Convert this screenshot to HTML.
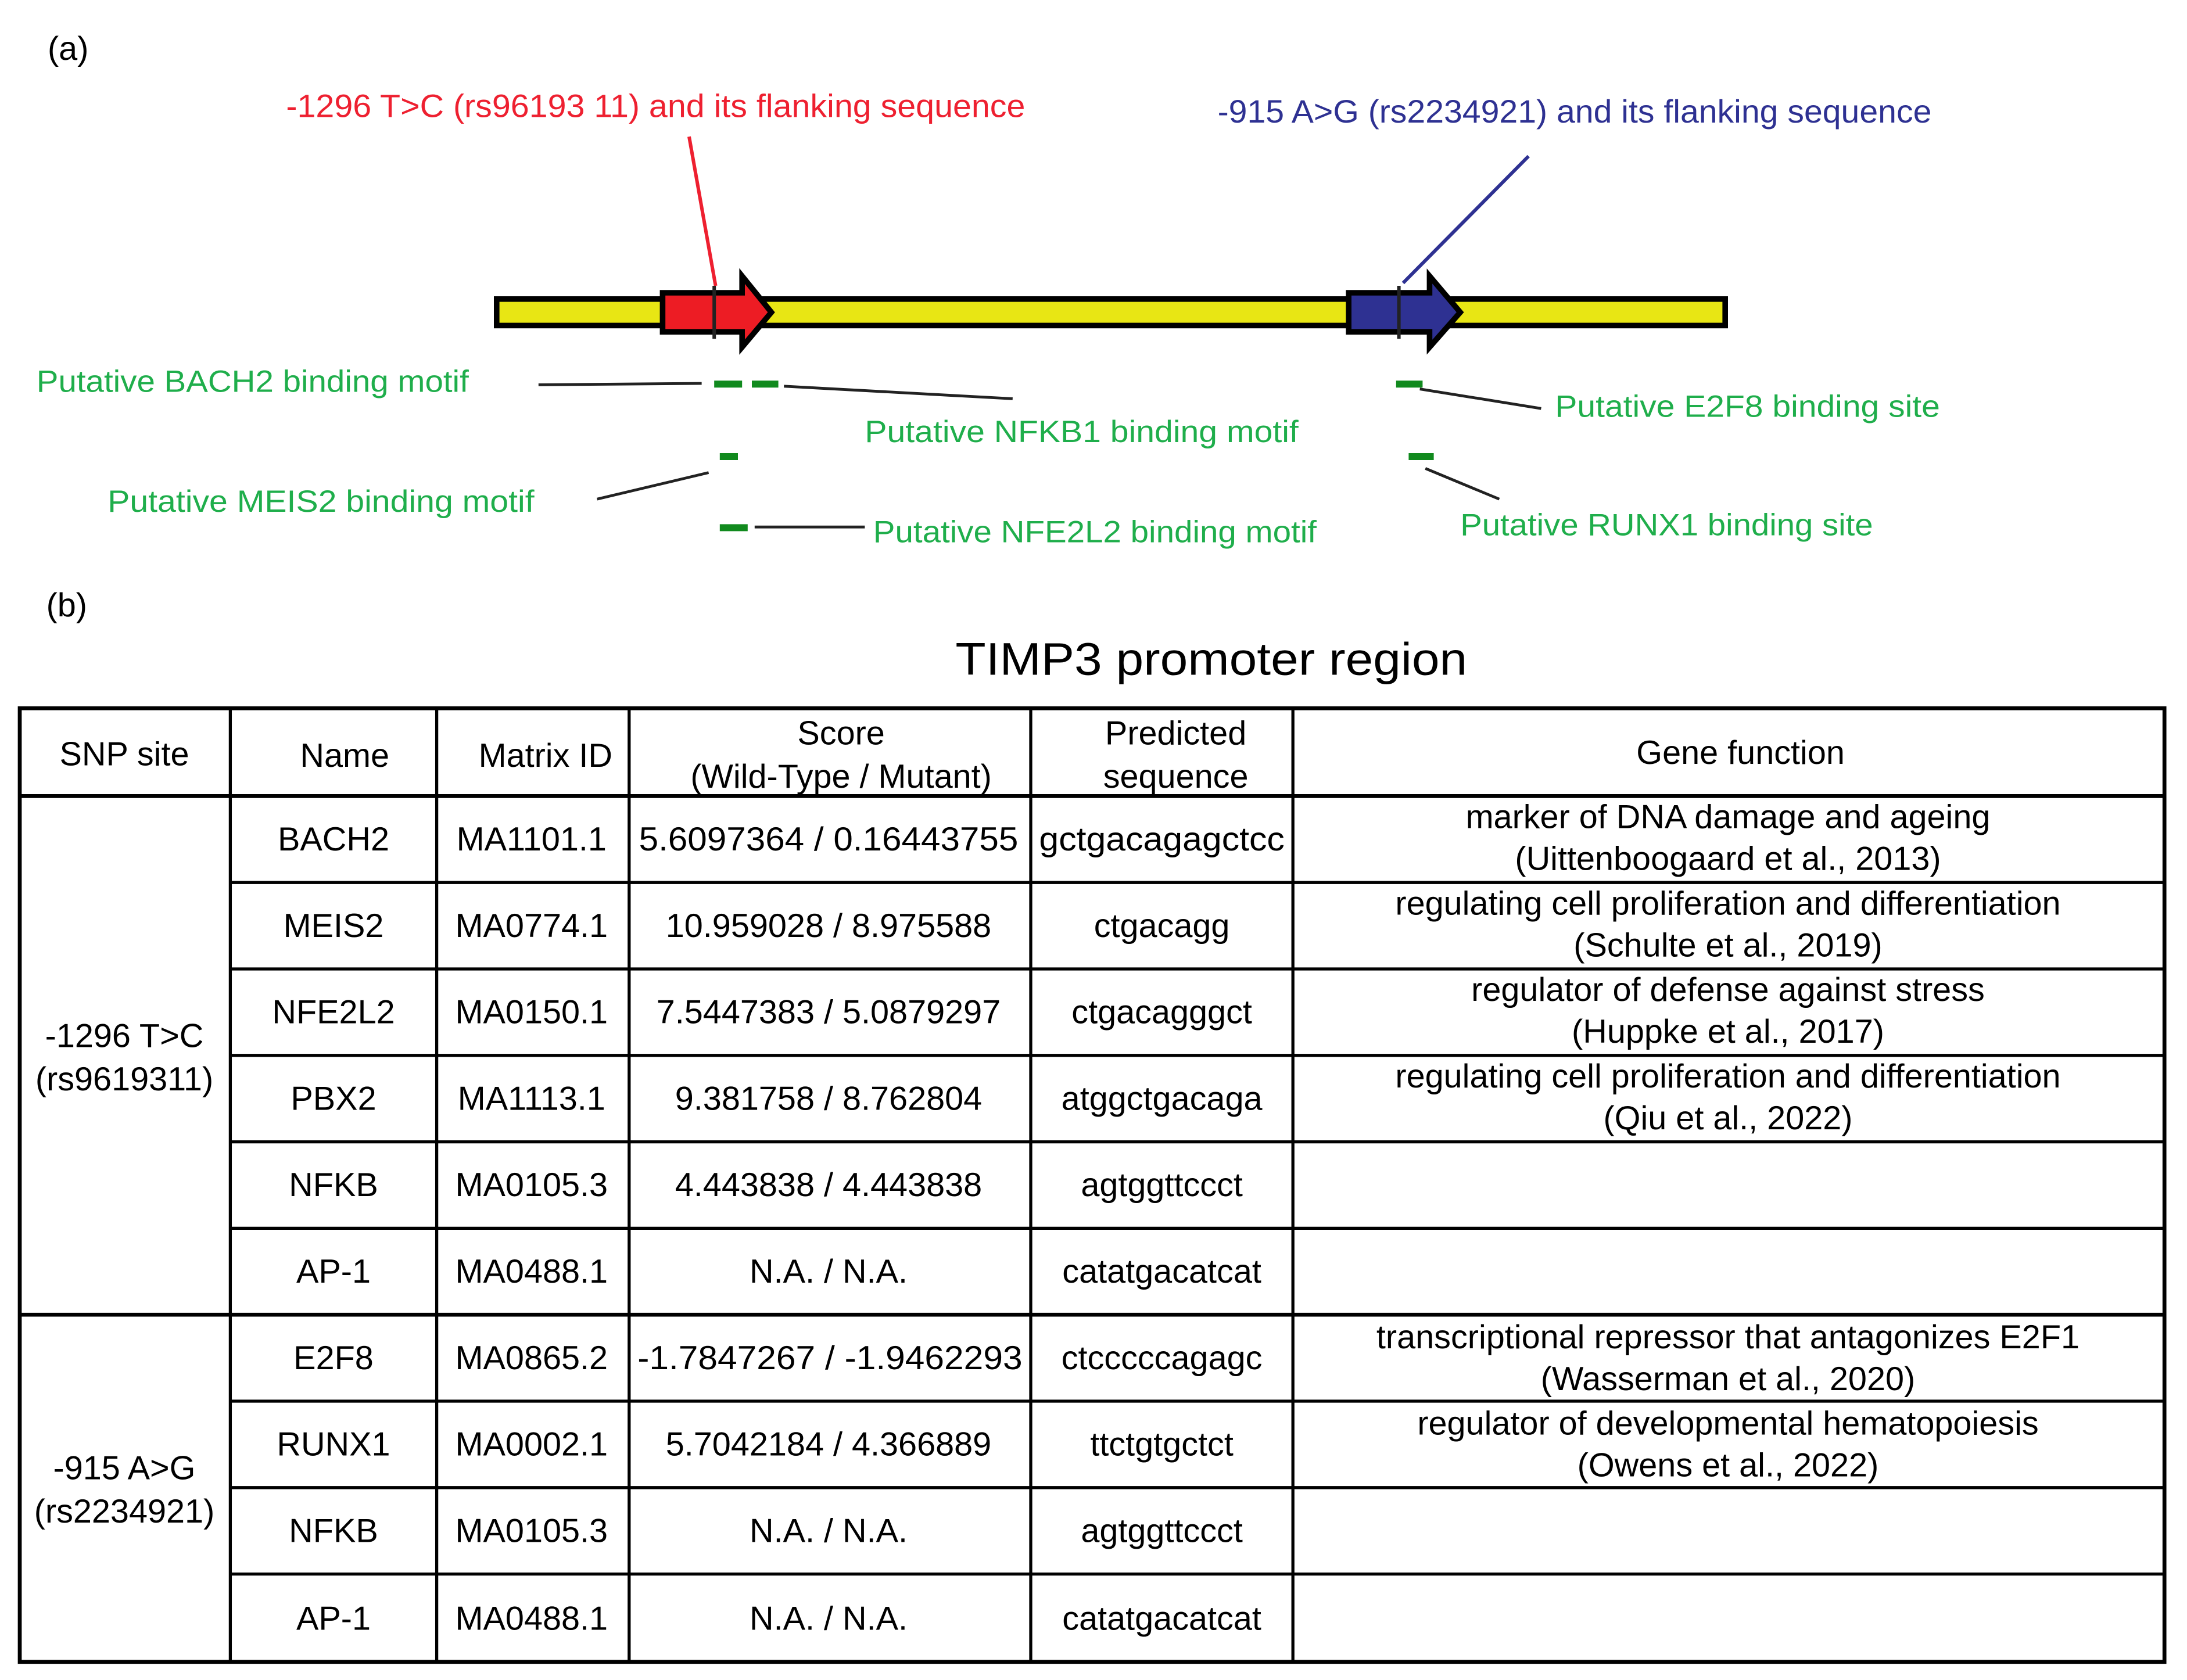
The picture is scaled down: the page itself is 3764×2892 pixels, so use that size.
<!DOCTYPE html>
<html><head><meta charset="utf-8"><style>
html,body{margin:0;padding:0;background:#fff;}
svg{display:block;}
text{font-family:"Liberation Sans",Arial,sans-serif;}
</style></head><body>
<svg width="3764" height="2892" viewBox="0 0 1568 1205" xmlns="http://www.w3.org/2000/svg">
<rect width="1568" height="1205" fill="#fff"/>
<text x="34" y="43" font-size="24">(a)</text>
<text x="205" y="84" font-size="23" fill="#ee2030" textLength="530" lengthAdjust="spacingAndGlyphs">-1296 T&gt;C (rs96193 11) and its flanking sequence</text>
<text x="873" y="88" font-size="23" fill="#2e3192" textLength="512" lengthAdjust="spacingAndGlyphs">-915 A&gt;G (rs2234921) and its flanking sequence</text>
<line x1="494" y1="98" x2="513" y2="205" stroke="#ee2030" stroke-width="2.5"/>
<line x1="1096" y1="112" x2="1006" y2="203" stroke="#2e3192" stroke-width="2.5"/>
<rect x="356" y="214.5" width="881" height="19" fill="#e8e614" stroke="#000" stroke-width="4"/>
<polygon points="475,210 532,210 532,198 553,224 532,249 532,238 475,238" fill="#ed1c24" stroke="#000" stroke-width="4"/>
<line x1="512" y1="205" x2="512" y2="243" stroke="#222" stroke-width="2.5"/>
<polygon points="967,210 1025,210 1025,198 1047,224 1025,249 1025,238 967,238" fill="#2e3192" stroke="#000" stroke-width="4"/>
<line x1="1003" y1="205" x2="1003" y2="243" stroke="#222" stroke-width="2.5"/>
<g fill="#118a1e">
<rect x="512" y="273" width="20" height="5"/>
<rect x="539" y="273" width="19" height="5"/>
<rect x="1001" y="273" width="19" height="5"/>
<rect x="516" y="325" width="13" height="5"/>
<rect x="1010" y="325" width="18" height="5"/>
<rect x="516" y="376" width="20" height="5"/>
</g>
<g stroke="#222" stroke-width="2">
<line x1="386" y1="276" x2="503" y2="275"/>
<line x1="562" y1="277" x2="726" y2="286"/>
<line x1="1018" y1="279" x2="1105" y2="293"/>
<line x1="508" y1="339" x2="428" y2="358"/>
<line x1="1022" y1="336" x2="1075" y2="358"/>
<line x1="541" y1="378" x2="620" y2="378"/>
</g>
<g fill="#1fae4b" font-size="22">
<text x="26" y="281" textLength="310" lengthAdjust="spacingAndGlyphs">Putative BACH2 binding motif</text>
<text x="620" y="317" textLength="311" lengthAdjust="spacingAndGlyphs">Putative NFKB1 binding motif</text>
<text x="1115" y="299" textLength="276" lengthAdjust="spacingAndGlyphs">Putative E2F8 binding site</text>
<text x="77" y="367" textLength="306" lengthAdjust="spacingAndGlyphs">Putative MEIS2 binding motif</text>
<text x="626" y="389" textLength="318" lengthAdjust="spacingAndGlyphs">Putative NFE2L2 binding motif</text>
<text x="1047" y="384" textLength="296" lengthAdjust="spacingAndGlyphs">Putative RUNX1 binding site</text>
</g>
<text x="33" y="442" font-size="24">(b)</text>
<text x="685" y="484" font-size="33" textLength="367" lengthAdjust="spacingAndGlyphs">TIMP3 promoter region</text>
<g stroke="#000" stroke-width="2.2" fill="none">
<rect x="14" y="508" width="1538" height="684" stroke-width="2.8"/>
<line x1="14" y1="571" x2="1552" y2="571" stroke-width="2.8"/>
<line x1="14" y1="943" x2="1552" y2="943" stroke-width="2.8"/>
<line x1="165" y1="508" x2="165" y2="1192"/>
<line x1="313" y1="508" x2="313" y2="1192"/>
<line x1="451" y1="508" x2="451" y2="1192"/>
<line x1="739" y1="508" x2="739" y2="1192"/>
<line x1="927" y1="508" x2="927" y2="1192"/>
<line x1="165" y1="633" x2="1552" y2="633"/>
<line x1="165" y1="695" x2="1552" y2="695"/>
<line x1="165" y1="757" x2="1552" y2="757"/>
<line x1="165" y1="819" x2="1552" y2="819"/>
<line x1="165" y1="881" x2="1552" y2="881"/>
<line x1="165" y1="1005" x2="1552" y2="1005"/>
<line x1="165" y1="1067" x2="1552" y2="1067"/>
<line x1="165" y1="1129" x2="1552" y2="1129"/>
</g>
<g font-size="24" text-anchor="middle" fill="#000">
<text x="89" y="549">SNP site</text>
<text x="247" y="550">Name</text>
<text x="391" y="550">Matrix ID</text>
<text x="603" y="534">Score</text>
<text x="603" y="565">(Wild-Type / Mutant)</text>
<text x="843" y="534">Predicted</text>
<text x="843" y="565">sequence</text>
<text x="1248" y="548">Gene function</text>

<text x="89" y="751">-1296 T&gt;C</text>
<text x="89" y="782">(rs9619311)</text>
<text x="89" y="1061">-915 A&gt;G</text>
<text x="89" y="1092">(rs2234921)</text>

<text x="239" y="610">BACH2</text><text x="381" y="610">MA1101.1</text><text x="594" y="610" textLength="272" lengthAdjust="spacingAndGlyphs">5.6097364 / 0.16443755</text><text x="833" y="610" textLength="176" lengthAdjust="spacingAndGlyphs">gctgacagagctcc</text>
<text x="1239" y="594">marker of DNA damage and ageing</text><text x="1239" y="624">(Uittenboogaard et al., 2013)</text>

<text x="239" y="672">MEIS2</text><text x="381" y="672">MA0774.1</text><text x="594" y="672">10.959028 / 8.975588</text><text x="833" y="672">ctgacagg</text>
<text x="1239" y="656">regulating cell proliferation and differentiation</text><text x="1239" y="686">(Schulte et al., 2019)</text>

<text x="239" y="734">NFE2L2</text><text x="381" y="734">MA0150.1</text><text x="594" y="734">7.5447383 / 5.0879297</text><text x="833" y="734">ctgacagggct</text>
<text x="1239" y="718">regulator of defense against stress</text><text x="1239" y="748">(Huppke et al., 2017)</text>

<text x="239" y="796">PBX2</text><text x="381" y="796">MA1113.1</text><text x="594" y="796">9.381758 / 8.762804</text><text x="833" y="796">atggctgacaga</text>
<text x="1239" y="780">regulating cell proliferation and differentiation</text><text x="1239" y="810">(Qiu et al., 2022)</text>

<text x="239" y="858">NFKB</text><text x="381" y="858">MA0105.3</text><text x="594" y="858">4.443838 / 4.443838</text><text x="833" y="858">agtggttccct</text>

<text x="239" y="920">AP-1</text><text x="381" y="920">MA0488.1</text><text x="594" y="920">N.A. / N.A.</text><text x="833" y="920">catatgacatcat</text>

<text x="239" y="982">E2F8</text><text x="381" y="982">MA0865.2</text><text x="595" y="982" textLength="276" lengthAdjust="spacingAndGlyphs">-1.7847267 / -1.9462293</text><text x="833" y="982">ctcccccagagc</text>
<text x="1239" y="967">transcriptional repressor that antagonizes E2F1</text><text x="1239" y="997">(Wasserman et al., 2020)</text>

<text x="239" y="1044">RUNX1</text><text x="381" y="1044">MA0002.1</text><text x="594" y="1044">5.7042184 / 4.366889</text><text x="833" y="1044">ttctgtgctct</text>
<text x="1239" y="1029">regulator of developmental hematopoiesis</text><text x="1239" y="1059">(Owens et al., 2022)</text>

<text x="239" y="1106">NFKB</text><text x="381" y="1106">MA0105.3</text><text x="594" y="1106">N.A. / N.A.</text><text x="833" y="1106">agtggttccct</text>

<text x="239" y="1169">AP-1</text><text x="381" y="1169">MA0488.1</text><text x="594" y="1169">N.A. / N.A.</text><text x="833" y="1169">catatgacatcat</text>
</g>
</svg>
</body></html>
